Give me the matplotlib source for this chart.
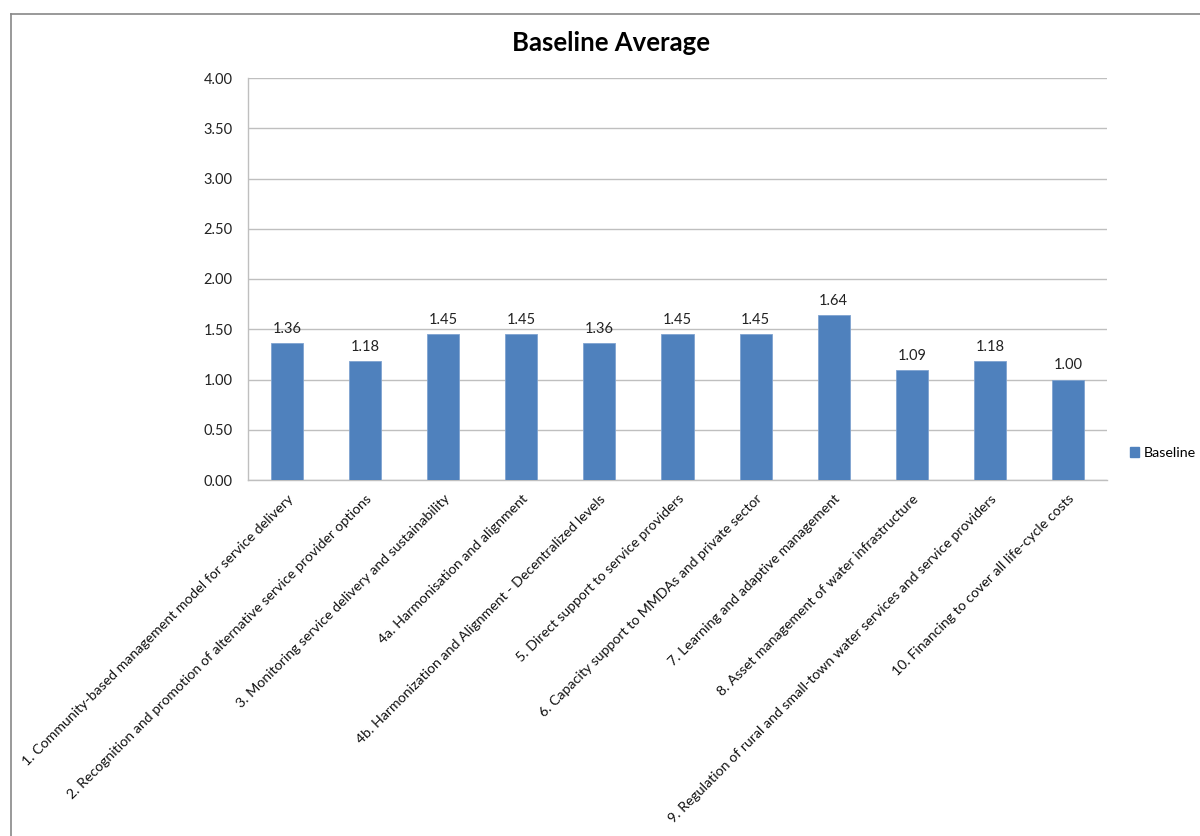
import matplotlib.pyplot as plt
from matplotlib.lines import Line2D
from matplotlib.patches import Patch
import numpy as np

plt.rcParams["font.family"] = ["Lato", "DejaVu Sans"]

categories = [
    "1. Community-based management model for service delivery",
    "2. Recognition and promotion of alternative service provider options",
    "3. Monitoring service delivery and sustainability",
    "4a. Harmonisation and alignment",
    "4b. Harmonization and Alignment - Decentralized levels",
    "5. Direct support to service providers",
    "6. Capacity support to MMDAs and private sector",
    "7. Learning and adaptive management",
    "8. Asset management of water infrastructure",
    "9. Regulation of rural and small-town water services and service providers",
    "10. Financing to cover all life-cycle costs",
]
baseline = [1.36, 1.18, 1.45, 1.45, 1.36, 1.45, 1.45, 1.64, 1.09, 1.18, 1.00]
yticks = [0.0, 0.5, 1.0, 1.5, 2.0, 2.5, 3.0, 3.5, 4.0]

bar_color = "#4F81BD"
grid_color = "#BFBFBF"

W, H = 1200, 836
fig = plt.figure(figsize=(W / 100, H / 100), dpi=100)
ax = fig.add_axes([248 / W, 1 - 480 / H, (1107 - 248) / W, (480 - 78) / H])

x = np.arange(len(categories))
ax.bar(x, baseline, width=0.41, color=bar_color, edgecolor="#7FA3D0",
       linewidth=0.6, zorder=3)
for xi, v in zip(x, baseline):
    ax.text(xi, v + 0.07, f"{v:.2f}", ha="center", va="bottom", fontsize=10.5,
            color="#222222")

ax.set_xlim(-0.5, len(categories) - 0.5)
ax.set_ylim(0, 4)
ax.set_yticks(yticks)
ax.set_yticklabels([f"{t:.2f}" for t in yticks], fontsize=10.5, color="#222222")
ax.yaxis.grid(True, color=grid_color, linewidth=1, zorder=0)
ax.tick_params(axis="both", length=0)
ax.tick_params(axis="y", pad=11)

ax.set_xticks(x)
ax.set_xticklabels(categories, rotation=45, ha="right", rotation_mode="anchor",
                   fontsize=10.2, color="#111111")
ax.tick_params(axis="x", pad=9)

for side in ["top", "right"]:
    ax.spines[side].set_visible(False)
for side in ["left", "bottom"]:
    ax.spines[side].set_color(grid_color)
    ax.spines[side].set_linewidth(1)

fig.text(611 / W, 1 - 43 / H, "Baseline Average", ha="center", va="center",
         fontsize=18.5, fontweight="bold")

# legend
ax.legend(handles=[Patch(color=bar_color, label="Baseline")], loc="center left",
          bbox_to_anchor=(1130 / W, 1 - 453 / H), bbox_transform=fig.transFigure,
          frameon=False, fontsize=10.3, handlelength=0.65, handleheight=0.65,
          handletextpad=0.3, borderpad=0, borderaxespad=0)

# chart frame (left and top edges visible)
fig.add_artist(Line2D([11 / W, 11 / W], [0, 1 - 14 / H], transform=fig.transFigure,
                      color="#888888", linewidth=1.2))
fig.add_artist(Line2D([11 / W, 1], [1 - 14 / H, 1 - 14 / H], transform=fig.transFigure,
                      color="#888888", linewidth=1.2))

fig.savefig("out.png", dpi=100)
